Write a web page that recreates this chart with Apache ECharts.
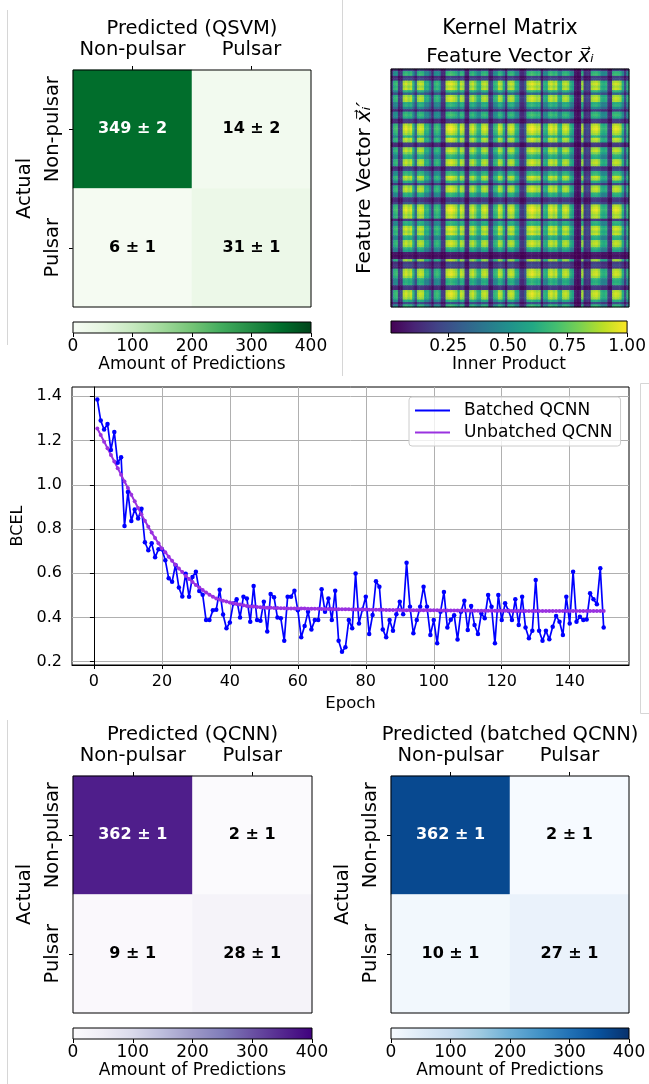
<!DOCTYPE html>
<html>
<head>
<meta charset="utf-8">
<script src="https://cdn.jsdelivr.net/npm/echarts@6/dist/echarts.min.js"></script>
<style>
  html, body { margin: 0; padding: 0; background: #fff; }
  #main { width: 649px; height: 1084px; }
</style>
</head>
<body>
<div id="main"></div>
<script>
// ---------- data ----------
const classLabels = ['Non-pulsar', 'Pulsar'];

const qsvmCounts = [[349, 14], [6, 31]];
const qsvmErrors = [[2, 2], [1, 1]];
const qcnnCounts = [[362, 2], [9, 28]];
const qcnnErrors = [[1, 1], [1, 1]];
const batchedCounts = [[362, 2], [10, 27]];
const batchedErrors = [[1, 1], [1, 1]];

const countTicks = [0, 100, 200, 300, 400];
const kernelTicks = [0.25, 0.5, 0.75, 1.0];
const epochTicks = [0, 20, 40, 60, 80, 100, 120, 140];
const lossTicks = [0.2, 0.4, 0.6, 0.8, 1.0, 1.2, 1.4];

// brightness of each band of feature vectors along the kernel matrix (0 dark .. 1 bright),
// read across a bright row of the matrix; the matrix is symmetric
const kernelProfile = [
  0.22, 0.68, 0.72, 0.2, 0.25, 0.92, 0.97, 0.9, 0.95, 0.68,
  0.35, 0.9, 0.95, 0.92, 0.65, 0.68, 0.5, 0.18, 0.68, 0.72,
  0.65, 0.2, 0.18, 0.93, 0.98, 1.0, 0.95, 0.9, 0.68, 0.95,
  0.9, 0.2, 0.18, 0.9, 0.95, 0.85, 0.68, 0.65, 0.92, 0.95,
  0.9, 0.2, 0.25, 0.68, 0.72, 0.95, 0.9, 0.65, 0.25, 0.9,
  0.95, 0.92, 0.68, 0.65, 0.2, 0.18, 0.3, 0.92, 0.97, 1.0,
  0.95, 0.9, 0.93, 0.2, 0.68, 0.65, 0.93, 0.97, 0.9, 0.95,
  0.68, 0.65, 0.92, 0.95, 0.9, 0.68, 0.6, 0.1, 0.06, 0.1,
  0.9, 0.2, 0.25, 0.2, 0.92, 0.95, 0.97, 0.9, 0.68, 0.65,
  0.68, 0.2, 0.18, 0.93, 0.97, 0.95, 0.9, 0.65, 0.25, 0.68
];

// BCEL per epoch (epochs 1..150)
const batchedLoss = [
  1.385, 1.29, 1.25, 1.275, 1.157, 1.238, 1.10, 1.124, 0.813, 0.967,
  0.836, 0.888, 0.847, 0.892, 0.74, 0.704, 0.736, 0.672, 0.708, 0.708,
  0.659, 0.577, 0.561, 0.637, 0.535, 0.495, 0.598, 0.494, 0.583, 0.607,
  0.52, 0.503, 0.388, 0.388, 0.432, 0.435, 0.525, 0.413, 0.351, 0.377,
  0.463, 0.482, 0.400, 0.494, 0.486, 0.381, 0.542, 0.388, 0.385, 0.471,
  0.336, 0.506, 0.491, 0.400, 0.396, 0.295, 0.494, 0.494, 0.521, 0.433,
  0.310, 0.361, 0.426, 0.346, 0.388, 0.388, 0.527, 0.426, 0.486, 0.388,
  0.521, 0.295, 0.245, 0.265, 0.388, 0.351, 0.599, 0.373, 0.436, 0.494,
  0.325, 0.411, 0.564, 0.539, 0.346, 0.310, 0.388, 0.340, 0.415, 0.471,
  0.415, 0.647, 0.448, 0.328, 0.388, 0.448, 0.539, 0.448, 0.321, 0.388,
  0.283, 0.426, 0.515, 0.355, 0.39, 0.41, 0.30, 0.426, 0.476, 0.343,
  0.452, 0.366, 0.325, 0.418, 0.396, 0.501, 0.448, 0.283, 0.501, 0.388,
  0.464, 0.430, 0.388, 0.482, 0.366, 0.494, 0.355, 0.306, 0.340, 0.569,
  0.340, 0.295, 0.340, 0.301, 0.358, 0.407, 0.381, 0.321, 0.494, 0.373,
  0.607, 0.381, 0.403, 0.388, 0.391, 0.509, 0.482, 0.460, 0.622, 0.355
];
const unbatchedLoss = [
  1.254, 1.225, 1.195, 1.165, 1.135, 1.105, 1.075, 1.045, 1.015, 0.985,
  0.955, 0.925, 0.895, 0.865, 0.837, 0.810, 0.784, 0.759, 0.735, 0.712,
  0.695, 0.675, 0.656, 0.638, 0.621, 0.605, 0.589, 0.574, 0.560, 0.547,
  0.535, 0.524, 0.513, 0.503, 0.494, 0.486, 0.481, 0.476, 0.472, 0.468,
  0.464, 0.461, 0.458, 0.455, 0.452, 0.450, 0.449, 0.447, 0.446, 0.445,
  0.444, 0.444, 0.443, 0.443, 0.442, 0.442, 0.441, 0.441, 0.440, 0.440,
  0.440, 0.440, 0.439, 0.439, 0.439, 0.439, 0.438, 0.438, 0.438, 0.438,
  0.437, 0.437, 0.437, 0.437, 0.437, 0.436, 0.436, 0.436, 0.436, 0.436,
  0.435, 0.435, 0.435, 0.435, 0.435, 0.434, 0.434, 0.434, 0.434, 0.434,
  0.433, 0.433, 0.433, 0.433, 0.433, 0.432, 0.432, 0.432, 0.432, 0.432,
  0.432, 0.432, 0.431, 0.431, 0.431, 0.431, 0.431, 0.431, 0.431, 0.431,
  0.430, 0.430, 0.430, 0.430, 0.430, 0.430, 0.430, 0.430, 0.430, 0.430,
  0.430, 0.430, 0.429, 0.429, 0.429, 0.429, 0.429, 0.429, 0.429, 0.429,
  0.429, 0.429, 0.429, 0.429, 0.429, 0.429, 0.429, 0.429, 0.429, 0.429,
  0.429, 0.429, 0.429, 0.429, 0.429, 0.429, 0.429, 0.429, 0.429, 0.429
];

// matplotlib colormaps
const greens = ['#f7fcf5', '#e5f5e0', '#c7e9c0', '#a1d99b', '#74c476', '#41ab5d', '#238b45', '#006d2c', '#00441b'];
const purples = ['#fcfbfd', '#efedf5', '#dadaeb', '#bcbddc', '#9e9ac8', '#807dba', '#6a51a3', '#54278f', '#3f007d'];
const blues = ['#f7fbff', '#deebf7', '#c6dbef', '#9ecae1', '#6baed6', '#4292c6', '#2171b5', '#08519c', '#08306b'];
const viridis = ['#440154', '#482475', '#414487', '#355f8d', '#2a788e', '#21918c', '#22a884', '#44bf70', '#7ad151', '#bddf26', '#fde725'];

// ---------- option building ----------
const black = '#000';
const font = 'DejaVu Sans';
const grid = [], xAxis = [], yAxis = [], series = [], visualMap = [];

function gradient(colors) {
  return new echarts.graphic.LinearGradient(0, 0, 1, 0,
    colors.map((c, i) => ({ offset: i / (colors.length - 1), color: c })));
}

function colorbar(left, top, width, height, colors, min, max, ticks, fmt, name) {
  const gi = grid.length;
  grid.push({ left, top, width, height, show: true, backgroundColor: gradient(colors),
    borderColor: black, borderWidth: 1 });
  xAxis.push({
    gridIndex: gi, type: 'value', position: 'bottom', min, max,
    axisLine: { show: false },
    axisTick: { show: true, length: 4, customValues: ticks, lineStyle: { color: black } },
    axisLabel: { customValues: ticks, formatter: fmt, color: black, fontSize: 17, margin: 5, fontFamily: font },
    splitLine: { show: false },
    name, nameLocation: 'middle', nameGap: 21,
    nameTextStyle: { color: black, fontSize: 17, fontFamily: font }
  });
  yAxis.push({ gridIndex: gi, type: 'value', show: false });
}

function confusion(left, top, width, height, counts, errors, colors, title) {
  const gi = grid.length;
  grid.push({ left, top, width, height, show: true, z: 5, borderColor: black, borderWidth: 1 });
  xAxis.push({
    gridIndex: gi, type: 'category', position: 'top', data: classLabels,
    axisLine: { show: false },
    axisTick: { show: true, interval: 0, alignWithLabel: true, length: 4, lineStyle: { color: black } },
    axisLabel: { interval: 0, color: black, fontSize: 19.5, margin: 10, fontFamily: font },
    splitLine: { show: false },
    name: title, nameLocation: 'middle', nameGap: 31,
    nameTextStyle: { color: black, fontSize: 19.5, fontFamily: font }
  });
  yAxis.push({
    gridIndex: gi, type: 'category', inverse: true, data: classLabels,
    axisLine: { show: false },
    axisTick: { show: true, interval: 0, alignWithLabel: true, length: 4, lineStyle: { color: black } },
    axisLabel: { interval: 0, rotate: 90, color: black, fontSize: 19.5, margin: 10, fontFamily: font },
    splitLine: { show: false },
    name: 'Actual', nameLocation: 'middle', nameRotate: 90, nameGap: 38,
    nameTextStyle: { color: black, fontSize: 19.5, fontFamily: font }
  });
  const data = [];
  counts.forEach((row, r) => row.forEach((v, c) => {
    data.push({ value: [c, r, v], label: { color: v > 200 ? '#fff' : '#000' } });
  }));
  const si = series.length;
  series.push({
    type: 'heatmap', xAxisIndex: gi, yAxisIndex: gi, data, progressive: 0,
    label: {
      show: true, fontSize: 16, fontWeight: 'bold', fontFamily: font,
      formatter: p => p.value[2] + ' ± ' + errors[p.value[1]][p.value[0]]
    },
    emphasis: { disabled: true }
  });
  visualMap.push({ type: 'continuous', show: false, seriesIndex: si, dimension: 2,
    min: 0, max: 400, inRange: { color: colors } });
  colorbar(left, top + height + 15, width, 11, colors, 0, 400, countTicks,
    v => String(v), 'Amount of Predictions');
}

// top-left: QSVM
confusion(73, 70, 238, 237, qsvmCounts, qsvmErrors, greens, 'Predicted (QSVM)');

// top-right: kernel matrix
(function () {
  const gi = grid.length;
  const idx = kernelProfile.map((_, i) => i);
  const rich = { v: { fontSize: 20, fontStyle: 'italic', fontFamily: font, color: black } };
  grid.push({ left: 391, top: 69, width: 238, height: 238, show: true, z: 5, borderColor: black, borderWidth: 1 });
  xAxis.push({
    gridIndex: gi, type: 'category', position: 'top', data: idx,
    axisLine: { show: false }, axisTick: { show: false }, axisLabel: { show: false }, splitLine: { show: false },
    name: 'Feature Vector {v|x⃗ᵢ}', nameLocation: 'middle', nameGap: 2,
    nameTextStyle: { color: black, fontSize: 20, fontFamily: font, rich }
  });
  yAxis.push({
    gridIndex: gi, type: 'category', inverse: true, data: idx,
    axisLine: { show: false }, axisTick: { show: false }, axisLabel: { show: false }, splitLine: { show: false },
    name: 'Feature Vector {v|x⃗ᵢ′}', nameLocation: 'middle', nameRotate: 90, nameGap: 16,
    nameTextStyle: { color: black, fontSize: 20, fontFamily: font, rich }
  });
  const data = [];
  kernelProfile.forEach((pi, i) => kernelProfile.forEach((pj, j) => {
    data.push([j, i, +(pi * pj).toFixed(3)]);
  }));
  const si = series.length;
  series.push({ type: 'heatmap', xAxisIndex: gi, yAxisIndex: gi, data, progressive: 0,
    emphasis: { disabled: true } });
  visualMap.push({ type: 'continuous', show: false, seriesIndex: si, dimension: 2,
    min: 0.01, max: 1.0, inRange: { color: viridis } });
  colorbar(391, 321, 238, 12, viridis, 0.01, 1.0, kernelTicks, v => v.toFixed(2), 'Inner Product');
})();

// middle: training loss
(function () {
  const gi = grid.length;
  grid.push({ left: 72, top: 387, width: 557, height: 278, show: true, borderColor: black, borderWidth: 1 });
  xAxis.push({
    gridIndex: gi, type: 'value', min: -6.45, max: 157.45, splitNumber: 8,
    axisLine: { lineStyle: { color: black } },
    axisTick: { customValues: epochTicks, length: 4, lineStyle: { color: black } },
    axisLabel: { customValues: epochTicks, color: black, fontSize: 16, margin: 9, fontFamily: font },
    splitLine: { show: true, lineStyle: { color: '#b0b0b0', width: 1 } },
    name: 'Epoch', nameLocation: 'middle', nameGap: 30,
    nameTextStyle: { color: black, fontSize: 16.5, fontFamily: font }
  });
  yAxis.push({
    gridIndex: gi, type: 'value', min: 0.185, max: 1.442, splitNumber: 7,
    axisLine: { show: true, lineStyle: { color: black } },
    axisTick: { show: true, customValues: lossTicks, length: 4, lineStyle: { color: black } },
    axisLabel: { customValues: lossTicks, formatter: v => v.toFixed(1), color: black, fontSize: 16, margin: 10, fontFamily: font },
    splitLine: { show: true, lineStyle: { color: '#b0b0b0', width: 1 } },
    name: 'BCEL', nameLocation: 'middle', nameRotate: 90, nameGap: 44,
    nameTextStyle: { color: black, fontSize: 16, fontFamily: font }
  });
  series.push({
    name: 'Batched QCNN', type: 'line', xAxisIndex: gi, yAxisIndex: gi,
    data: batchedLoss.map((v, i) => [i + 1, v]),
    color: '#0000ff', symbol: 'circle', symbolSize: 4.5, showSymbol: true,
    lineStyle: { width: 1.7 }, emphasis: { disabled: true }
  });
  series.push({
    name: 'Unbatched QCNN', type: 'line', xAxisIndex: gi, yAxisIndex: gi,
    data: unbatchedLoss.map((v, i) => [i + 1, v]),
    color: '#9a32e0', symbol: 'circle', symbolSize: 4, showSymbol: true,
    lineStyle: { width: 2 }, emphasis: { disabled: true }
  });
})();

// bottom: QCNN and batched QCNN
confusion(73, 776, 239, 237, qcnnCounts, qcnnErrors, purples, 'Predicted (QCNN)');
confusion(391, 776, 238, 237, batchedCounts, batchedErrors, blues, 'Predicted (batched QCNN)');

const divider = { stroke: '#d6d6d6', lineWidth: 1, fill: null };

const option = {
  animation: false,
  backgroundColor: '#fff',
  textStyle: { fontFamily: font },
  grid, xAxis, yAxis, series, visualMap,
  legend: {
    data: ['Batched QCNN', 'Unbatched QCNN'],
    orient: 'vertical', left: 409, top: 397,
    icon: 'rect', itemWidth: 35, itemHeight: 2, itemGap: 5,
    padding: [5, 8, 5, 6],
    backgroundColor: 'rgba(255,255,255,0.8)', borderColor: '#cccccc', borderWidth: 1, borderRadius: 3,
    textStyle: { color: black, fontSize: 17, fontFamily: font, padding: [0, 0, 0, 9] }
  },
  graphic: [
    { type: 'text', x: 510, y: 29,
      style: { text: 'Kernel Matrix', font: '20.5px "DejaVu Sans"', fill: black,
        align: 'center', verticalAlign: 'middle', textAlign: 'center', textVerticalAlign: 'middle' } },
    { type: 'line', silent: true, shape: { x1: 7.5, y1: 10, x2: 7.5, y2: 345 }, style: divider },
    { type: 'line', silent: true, shape: { x1: 342.5, y1: 0, x2: 342.5, y2: 376 }, style: divider },
    { type: 'polyline', silent: true,
      shape: { points: [[649, 383.5], [640.5, 383.5], [640.5, 713.5], [649, 713.5]] }, style: divider },
    { type: 'line', silent: true, shape: { x1: 7.5, y1: 720, x2: 7.5, y2: 1084 }, style: divider }
  ]
};

const chart = echarts.init(document.getElementById('main'));
chart.setOption(option);
</script>
</body>
</html>
